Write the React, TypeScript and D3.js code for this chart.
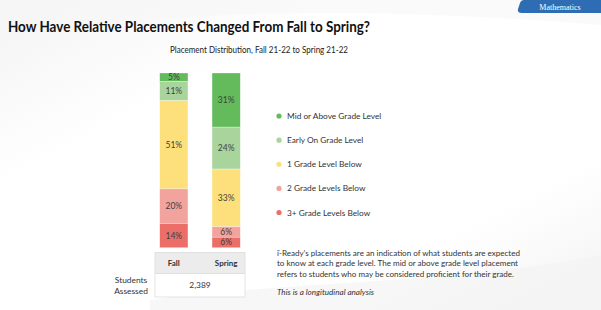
import { useMemo } from "react";
import * as d3 from "d3";

const W = 601;
const H = 310;

// placement levels, top to bottom of each bar
const levels = [
  "Mid or Above Grade Level",
  "Early On Grade Level",
  "1 Grade Level Below",
  "2 Grade Levels Below",
  "3+ Grade Levels Below",
];
const levelColors = ["#63bb5b", "#a9d49c", "#fde07b", "#f3a39d", "#ec6e69"];

const terms = ["Fall", "Spring"];
const fallValues = [5, 11, 51, 20, 14];
const springValues = [31, 24, 33, 6, 6];
const studentsAssessed = "2,389";

const note = [
  "i-Ready\u2019s placements are an indication of what students are expected",
  "to know at each grade level. The mid or above grade level placement",
  "refers to students who may be considered proficient for their grade.",
];
const noteWidths = [243, 241, 237];

const FONT = "Lato, 'Open Sans', sans-serif";

export default function App() {
  const x = useMemo(
    () => d3.scaleBand().domain(terms).range([155, 245]).paddingInner(0.46).paddingOuter(0.09),
    []
  );
  const y = useMemo(() => d3.scaleLinear().domain([0, 1]).range([73, 247.7]), []);
  const legendY = useMemo(
    () => d3.scalePoint().domain(levels).range([116, 212.5]),
    []
  );

  const bars = [fallValues, springValues].map((vals, i) => {
    const total = d3.sum(vals);
    let acc = 0;
    return vals.map((v, j) => {
      const y0 = acc / total;
      acc += v;
      return { term: terms[i], level: j, value: v, y0, y1: acc / total };
    });
  });

  return (
    <svg width={W} height={H} style={{ display: "block", position: "absolute", left: 0, top: 0 }}>
      <defs>
        <linearGradient id="bg" x1="0" y1="0" x2="1" y2="1">
          <stop offset="0%" stopColor="#f3f3f3" />
          <stop offset="30%" stopColor="#ffffff" />
          <stop offset="75%" stopColor="#ffffff" />
          <stop offset="100%" stopColor="#f2f2f2" />
        </linearGradient>
      </defs>
      <rect width={W} height={H} fill="url(#bg)" />
      <path d="M0,40 C150,10 350,5 601,25 L601,0 L0,0 Z" fill="#f6f6f6" opacity={0.6} />
      <path d="M150,300 C300,280 450,285 601,255 L601,310 L150,310 Z" fill="#f4f4f4" opacity={0.7} />

      {/* subject tab */}
      <path d="M522,0 L601,0 L601,13 L522,13 Q517,13 518,9 L520,3 Q521,0 524,0 Z" fill="#2e6db4" />
      <text x={560} y={9.5} fontSize={8} fill="#ffffff" fontFamily="'Liberation Serif', serif" textAnchor="middle">
        Mathematics
      </text>

      <text
        x={8}
        y={31.5}
        fontSize={15.5}
        fontWeight="bold"
        fill="#111"
        fontFamily={FONT}
        textLength={362}
        lengthAdjust="spacingAndGlyphs"
      >
        How Have Relative Placements Changed From Fall to Spring?
      </text>
      <text
        x={170}
        y={53}
        fontSize={9.2}
        fill="#222"
        fontFamily={FONT}
        textLength={178}
        lengthAdjust="spacingAndGlyphs"
      >
        Placement Distribution, Fall 21-22 to Spring 21-22
      </text>

      {bars.map((segs) =>
        segs.map((s) => (
          <g key={s.term + s.level}>
            <rect
              x={x(s.term)}
              y={y(s.y0)}
              width={x.bandwidth()}
              height={y(s.y1) - y(s.y0)}
              fill={levelColors[s.level]}
              stroke="#ffffff"
              strokeOpacity={0.5}
              strokeWidth={0.6}
            />
            <text
              x={(x(s.term) ?? 0) + x.bandwidth() / 2}
              y={(y(s.y0) + y(s.y1)) / 2 + 3}
              fontSize={8.5}
              fill="#404040"
              fontFamily={FONT}
              textAnchor="middle"
            >
              {s.value}%
            </text>
          </g>
        ))
      )}

      {levels.map((l, i) => (
        <g key={l}>
          <circle cx={279} cy={legendY(l)} r={2.6} fill={levelColors[i]} />
          <text x={287} y={(legendY(l) ?? 0) + 3} fontSize={8.3} fill="#333" fontFamily={FONT}>
            {l}
          </text>
        </g>
      ))}

      {/* students assessed table */}
      <rect x={155} y={252.5} width={90} height={21} fill="#ececec" stroke="#dcdcdc" strokeWidth={0.8} />
      <rect x={155} y={273.5} width={90} height={23.5} fill="#ffffff" stroke="#dcdcdc" strokeWidth={0.8} />
      {terms.map((t) => (
        <text
          key={t}
          x={(x(t) ?? 0) + x.bandwidth() / 2}
          y={266}
          fontSize={8}
          fontWeight="bold"
          fill="#333"
          fontFamily={FONT}
          textAnchor="middle"
        >
          {t}
        </text>
      ))}
      <text x={200} y={287.5} fontSize={8.4} fill="#333" fontFamily={FONT} textAnchor="middle">
        {studentsAssessed}
      </text>
      <text x={131} y={283} fontSize={8.4} fill="#333" fontFamily={FONT} textAnchor="middle">
        Students
      </text>
      <text x={131} y={294} fontSize={8.4} fill="#333" fontFamily={FONT} textAnchor="middle">
        Assessed
      </text>

      {note.map((line, i) => (
        <text
          key={i}
          x={277}
          y={255.5 + i * 10.6}
          fontSize={8.3}
          fill="#333"
          fontFamily={FONT}
          textLength={noteWidths[i]}
          lengthAdjust="spacingAndGlyphs"
        >
          {line}
        </text>
      ))}
      <path d="M277.5,250 l1.2,1.2 l1.2,-1.2" fill="none" stroke="#d33" strokeWidth={0.6} />
      <text
        x={277}
        y={294.5}
        fontSize={7.6}
        fontStyle="italic"
        fill="#333"
        fontFamily={FONT}
        textLength={97}
        lengthAdjust="spacingAndGlyphs"
      >
        This is a longitudinal analysis
      </text>
    </svg>
  );
}
